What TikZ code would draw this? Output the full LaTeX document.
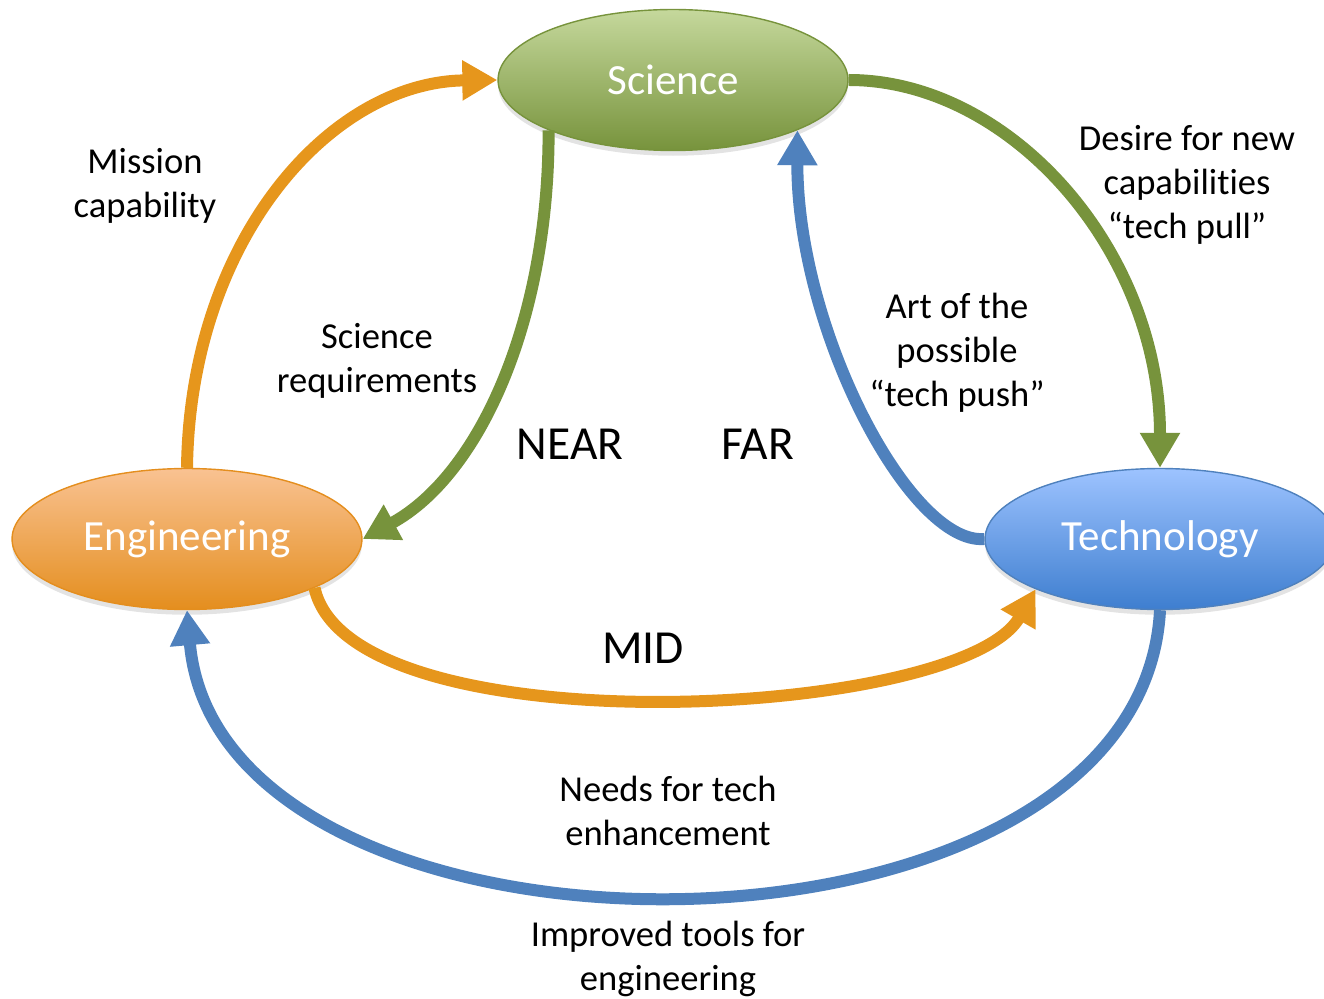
\documentclass[tikz,border=0pt]{standalone}
\usepackage{fontspec}
\setmainfont[Ligatures=NoCommon]{Carlito}
\usetikzlibrary{arrows.meta,shadows,shapes.geometric}

\definecolor{sciTop}{RGB}{197,216,156}
\definecolor{sciBot}{RGB}{119,147,60}
\definecolor{engTop}{RGB}{249,194,146}
\definecolor{engBot}{RGB}{228,142,30}
\definecolor{tecTop}{RGB}{157,195,255}
\definecolor{tecBot}{RGB}{62,126,207}
\definecolor{orangeLine}{RGB}{230,150,28}
\definecolor{greenLine}{RGB}{119,147,60}
\definecolor{blueLine}{RGB}{79,129,189}

\begin{document}
\begin{tikzpicture}[x=0.02cm, y=-0.02cm,
    field/.style={
        ellipse,
        minimum width=7cm,
        minimum height=2.82cm,
        inner sep=0pt,
        line width=0.8pt,
        text=white,
        font=\fontsize{24.5}{28}\selectfont,
        drop shadow={opacity=0.22, shadow xshift=0pt, shadow yshift=-3pt}
    },
    flow/.style={
        line width=0.24cm,
        -{Triangle[length=0.7cm, width=0.76cm]}
    },
    note/.style={
        align=center,
        font=\fontsize{20.8}{25}\selectfont
    },
    zone/.style={
        font=\fontsize{27}{30}\selectfont
    }
]
\useasboundingbox (0,0) rectangle (1324,999);

% --- Fields ---
\node[field, draw=sciBot, top color=sciTop, bottom color=sciBot] (sci) at (673,80) {Science};
\node[field, draw=engBot, top color=engTop, bottom color=engBot] (eng) at (187,539) {Engineering};
\node[field, draw=blueLine, top color=tecTop, bottom color=tecBot] (tec) at (1160,539) {Technology};

% --- Flows ---
\draw[flow, orangeLine] (eng.north) .. controls (190,240) and (330,82) .. (sci.west);
\draw[flow, greenLine] (sci.202) .. controls (549,320) and (480,475) .. (eng.east);
\draw[flow, greenLine] (sci.east) .. controls (1010,80) and (1160,250) .. (tec.north);
\draw[flow, blueLine] (tec.west) .. controls (910,545) and (797,330) .. (sci.338);
\draw[flow, orangeLine] (eng.339) .. controls (350,750) and (960,720) .. (tec.202);
\draw[flow, blueLine] (tec.south) .. controls (1140,990) and (220,990) .. (eng.south);

% --- Labels ---
\node[note] (mission) at (145,186) {Mission\\capability};
\node[note] (sreq) at (377,361) {Science\\requirements};
\node[note] (pull) at (1187,185) {Desire for new\\capabilities\\“tech pull”};
\node[note] (push) at (957,353) {Art of the\\possible\\“tech push”};
\node[note] (needs) at (668,811) {Needs for tech\\enhancement};
\node[note] (tools) at (668,959) {Improved tools for\\engineering};

% --- Zones ---
\node[zone] (near) at (570,444) {NEAR};
\node[zone] (far) at (758,444) {FAR};
\node[zone] (mid) at (643,648) {MID};

\end{tikzpicture}
\end{document}
